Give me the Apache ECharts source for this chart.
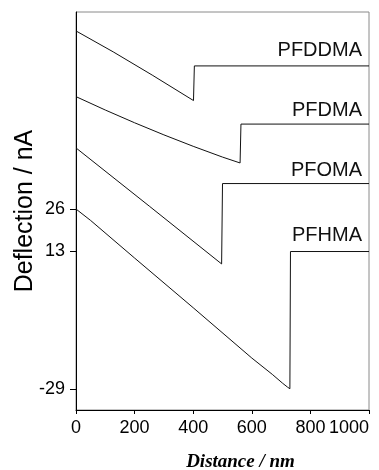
<!DOCTYPE html>
<html>
<head>
<meta charset="utf-8">
<script src="https://cdn.jsdelivr.net/npm/echarts@6/dist/echarts.min.js"></script>
<style>
html,body{margin:0;padding:0;background:#fff;}
#chart{width:379px;height:470px;}
</style>
</head>
<body>
<div id="chart"></div>
<script>
// ---- data ----
const seriesNames = ['PFDDMA', 'PFDMA', 'PFOMA', 'PFHMA'];

const pfddmaX = [0, 127, 260, 401, 404, 1000];
const pfddmaY = [80.5, 74.1, 67.0, 59.2, 69.8, 69.8];

const pfdmaX = [0, 100, 200, 300, 400, 500, 560, 563, 1000];
const pfdmaY = [60.4, 56.3, 52.4, 48.7, 45.2, 41.9, 40.1, 52.0, 52.0];

const pfomaX = [0, 250, 497, 500, 1000];
const pfomaY = [44.7, 26.9, 9.2, 33.8, 33.8];

const pfhmaX = [0, 50, 200, 400, 600, 670, 705, 722, 730, 732, 1000];
const pfhmaY = [26, 22.5, 11.0, -4.2, -19.6, -24.6, -27.3, -28.5, -29, 13, 13];

const yTickValues = [26, 13, -29];
const xTickValues = [0, 200, 400, 600, 800, 1000];

const xTitle = 'Distance / nm';
const yTitle = 'Deflection / nA';

// ---- build ----
function pairs(xs, ys) { return xs.map((x, i) => [x, ys[i]]); }
const allData = [pairs(pfddmaX, pfddmaY), pairs(pfdmaX, pfdmaY), pairs(pfomaX, pfomaY), pairs(pfhmaX, pfhmaY)];
const labelY = [50, 110, 170, 235];

const chart = echarts.init(document.getElementById('chart'), null, {renderer: 'canvas'});
const sans = 'Liberation Sans, Arial, Helvetica, sans-serif';

chart.setOption({
  animation: false,
  backgroundColor: '#ffffff',
  grid: {
    left: 76, right: 10, top: 12, bottom: 60,
    containLabel: false, outerBoundsMode: 'none',
    show: true, borderColor: '#8a8a8a', borderWidth: 1, backgroundColor: 'transparent'
  },
  xAxis: {
    type: 'value', min: 0, max: 1000, interval: 200,
    axisLine: {show: true, onZero: false, lineStyle: {color: '#000', width: 1}},
    axisTick: {show: true, length: 4, lineStyle: {color: '#000'}},
    axisLabel: {
      color: '#000', fontFamily: sans, fontSize: 18, margin: 9,
      showMaxLabel: true, showMinLabel: true, hideOverlap: false, alignMaxLabel: 'right',
      formatter: v => String(v)
    },
    splitLine: {show: false},
    name: xTitle, nameLocation: 'middle', nameGap: 43, nameMoveOverlap: false,
    nameTextStyle: {fontFamily: 'Liberation Serif, Times New Roman, serif', fontWeight: 'bold', fontStyle: 'italic', fontSize: 19, color: '#000', padding: [0, 0, 0, 36]}
  },
  yAxis: {
    type: 'value', min: -35.5, max: 86.3,
    axisLine: {show: true, onZero: false, lineStyle: {color: '#000', width: 1}},
    axisTick: {show: true, length: 6, customValues: yTickValues, lineStyle: {color: '#000'}},
    axisLabel: {color: '#000', fontFamily: sans, fontSize: 18, margin: 11, customValues: yTickValues},
    splitLine: {show: false},
    name: yTitle, nameLocation: 'middle', nameGap: 38, nameRotate: 90, nameMoveOverlap: false,
    nameTextStyle: {fontFamily: sans, fontSize: 25, color: '#000'}
  },
  series: allData.map((d, i) => ({
    name: seriesNames[i], type: 'line', data: d, showSymbol: false, smooth: false,
    lineStyle: {color: '#111', width: 1}
  })),
  graphic: seriesNames.map((n, i) => ({
    type: 'text', right: 17, top: labelY[i] - 10,
    style: {text: n, fontFamily: sans, fontSize: 20, fill: '#111'}
  }))
});
</script>
</body>
</html>
